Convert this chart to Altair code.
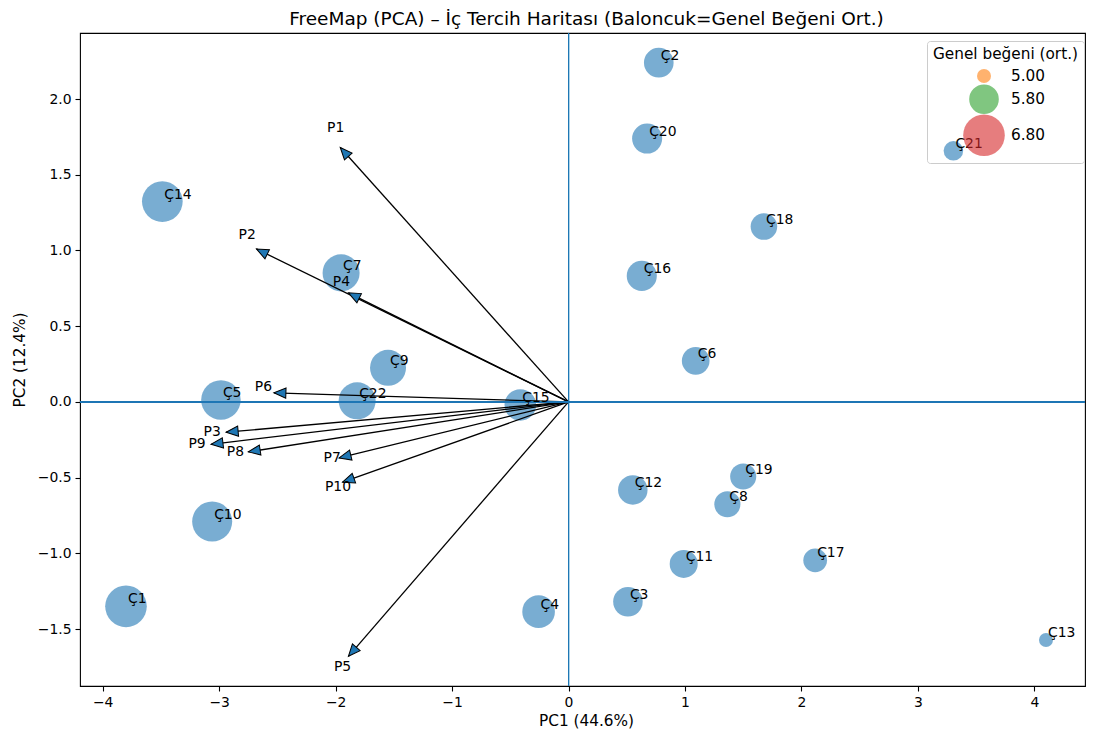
import math
import altair as alt
import pandas as pd

# ---------------- data ----------------
names = ["Ç1", "Ç2", "Ç3", "Ç4", "Ç5", "Ç6", "Ç7", "Ç8", "Ç9", "Ç10", "Ç11",
         "Ç12", "Ç13", "Ç14", "Ç15", "Ç16", "Ç17", "Ç18", "Ç19", "Ç20", "Ç21", "Ç22"]
pc1 = [-3.80, 0.775, 0.51, -0.257, -2.985, 1.092, -1.953, 1.364, -1.55, -3.06, 0.989,
       0.552, 4.10, -3.488, -0.414, 0.629, 2.118, 1.678, 1.50, 0.675, 3.305, -1.815]
pc2 = [-1.35, 2.24, -1.32, -1.385, 0.013, 0.271, 0.852, -0.676, 0.225, -0.79, -1.07,
       -0.581, -1.572, 1.323, -0.02, 0.832, -1.046, 1.158, -0.493, 1.739, 1.658, 0.007]
liking = [6.80, 5.80, 5.79, 6.02, 6.60, 5.67, 6.38, 5.57, 6.29, 6.65, 5.69,
          5.79, 5.00, 6.71, 5.94, 5.83, 5.43, 5.60, 5.57, 5.83, 5.22, 6.38]

attrs = ["P1", "P2", "P3", "P4", "P5", "P6", "P7", "P8", "P9", "P10"]
load_x = [-1.96, -2.68, -2.94, -1.89, -1.89, -2.53, -1.97, -2.75, -3.07, -1.94]
load_y = [1.68, 1.01, -0.20, 0.72, -1.68, 0.06, -0.37, -0.33, -0.28, -0.53]
label_x = [-2.00, -2.76, -3.06, -1.95, -1.94, -2.62, -2.03, -2.86, -3.19, -1.98]
label_y = [1.81, 1.10, -0.20, 0.79, -1.75, 0.10, -0.37, -0.33, -0.28, -0.56]

legend_values = [5.00, 5.80, 6.80]
legend_colors = ["#ff7f0e", "#2ca02c", "#d62728"]

x_ticks = [-4, -3, -2, -1, 0, 1, 2, 3, 4]
y_ticks = [-1.5, -1.0, -0.5, 0.0, 0.5, 1.0, 1.5, 2.0]

TITLE = "FreeMap (PCA) – İç Tercih Haritası (Baloncuk=Genel Beğeni Ort.)"
X_TITLE = "PC1 (44.6%)"
Y_TITLE = "PC2 (12.4%)"
LEGEND_TITLE = "Genel beğeni (ort.)"

# ---------------- layout / style ----------------
X_DOMAIN = [-4.195, 4.435]
Y_DOMAIN = [-1.876, 2.436]
W, H = 1005, 653
SIZE_DOMAIN = [5.0, 6.8]
SIZE_RANGE = [196, 1731]
BLUE = "#1f77b4"
FONT = "DejaVu Sans"
FS = 13.9
FS_AX = 15.3

ux = W / (X_DOMAIN[1] - X_DOMAIN[0])
uy = H / (Y_DOMAIN[1] - Y_DOMAIN[0])

pts = pd.DataFrame({"name": names, "pc1": pc1, "pc2": pc2, "liking": liking})

arrows = pd.DataFrame({
    "attr": attrs, "lx": load_x, "ly": load_y, "tx": label_x, "ty": label_y,
})
arrows["x0"] = 0.0
arrows["y0"] = 0.0
arrows["angle"] = [
    (math.degrees(math.atan2(a * ux, b * uy)) + 360) % 360 for a, b in zip(load_x, load_y)
]


def interp_size(v):
    t = (v - SIZE_DOMAIN[0]) / (SIZE_DOMAIN[1] - SIZE_DOMAIN[0])
    return SIZE_RANGE[0] + t * (SIZE_RANGE[1] - SIZE_RANGE[0])


leg_labels = [f"{v:.2f}" for v in legend_values]
leg = pd.DataFrame({"lab": leg_labels})
leg_sizes = [interp_size(v) for v in legend_values]

xs = alt.Scale(domain=X_DOMAIN, nice=False, zero=False)
ys = alt.Scale(domain=Y_DOMAIN, nice=False, zero=False)

x_enc = alt.X("pc1:Q", scale=xs, title=X_TITLE,
              axis=alt.Axis(values=x_ticks, format="d", titlePadding=5,
                            titleX=506, titleFontSize=FS_AX))
y_enc = alt.Y("pc2:Q", scale=ys, title=Y_TITLE,
              axis=alt.Axis(values=y_ticks, format=".1f", titlePadding=10,
                            titleFontSize=FS_AX))

points = alt.Chart(pts).mark_circle(color=BLUE, opacity=0.6).encode(
    x=x_enc, y=y_enc,
    size=alt.Size("liking:Q", scale=alt.Scale(domain=SIZE_DOMAIN, range=SIZE_RANGE, zero=False),
                  legend=None),
)

shafts = alt.Chart(arrows).mark_rule(color="black", strokeWidth=1.3).encode(
    x=alt.X("x0:Q", scale=xs), y=alt.Y("y0:Q", scale=ys),
    x2="lx:Q", y2="ly:Q",
)

ARROW_PATH = "M0,0L-0.85,2L0.85,2Z"
heads = alt.Chart(arrows).mark_point(
    shape=ARROW_PATH, filled=True, fill=BLUE, stroke="black", strokeWidth=1,
    size=144, opacity=1,
).encode(
    x=alt.X("lx:Q", scale=xs), y=alt.Y("ly:Q", scale=ys),
    angle=alt.Angle("angle:Q", scale=None),
)

hline = alt.Chart(pts).mark_rule(color=BLUE, strokeWidth=1).encode(y=alt.datum(0))
vline = alt.Chart(pts).mark_rule(color=BLUE, strokeWidth=1).encode(x=alt.datum(0))

pt_labels = alt.Chart(pts).mark_text(
    align="left", baseline="alphabetic", dx=2, dy=-3, font=FONT, fontSize=FS, color="black"
).encode(x=alt.X("pc1:Q", scale=xs), y=alt.Y("pc2:Q", scale=ys), text="name:N")

attr_labels = alt.Chart(arrows).mark_text(
    align="center", baseline="middle", font=FONT, fontSize=FS, color="black"
).encode(x=alt.X("tx:Q", scale=xs), y=alt.Y("ty:Q", scale=ys), text="attr:N")

legend = alt.Legend(
    title=LEGEND_TITLE, orient="none", legendX=847, legendY=8, padding=6,
    strokeColor="#cccccc", cornerRadius=3,
    titleFont=FONT, titleFontSize=FS_AX, titleFontWeight="normal", titleColor="black",
    titlePadding=6,
    labelFont=FONT, labelFontSize=FS_AX, labelColor="black",
    symbolOpacity=0.6, symbolStrokeWidth=0, symbolType="circle",
    rowPadding=0, symbolOffset=30, labelOffset=6,
)

legend_layer = alt.Chart(leg).mark_point(filled=True, opacity=0, shape="circle").encode(
    x=alt.value(W / 2), y=alt.value(H / 2),
    color=alt.Color("lab:O", scale=alt.Scale(type="ordinal", domain=leg_labels, range=legend_colors),
                    legend=legend),
    size=alt.Size("lab:O", scale=alt.Scale(type="ordinal", domain=leg_labels, range=leg_sizes),
                  legend=legend),
)

chart = alt.layer(
    points, shafts, heads, hline, vline, pt_labels, attr_labels, legend_layer
).resolve_scale(size="independent", color="independent").properties(
    width=W, height=H,
    autosize=alt.AutoSizeParams(type="none"),
    padding={"left": 72, "top": 25, "right": 1, "bottom": 46},
    title=alt.Title(TITLE, font=FONT, fontSize=18.5, fontWeight="normal", color="black",
                    offset=4, anchor="middle", dx=4),
).configure_axis(
    labelFont=FONT, labelFontSize=FS, labelColor="black",
    tickColor="black", tickSize=5, tickWidth=1.1, labelPadding=4,
    domain=False, grid=False,
    titleFont=FONT, titleFontSize=FS_AX, titleFontWeight="normal", titleColor="black",
).configure_view(stroke="black", strokeWidth=1.1)

chart.save("out.html", embed_options={"renderer": "svg", "actions": False})
